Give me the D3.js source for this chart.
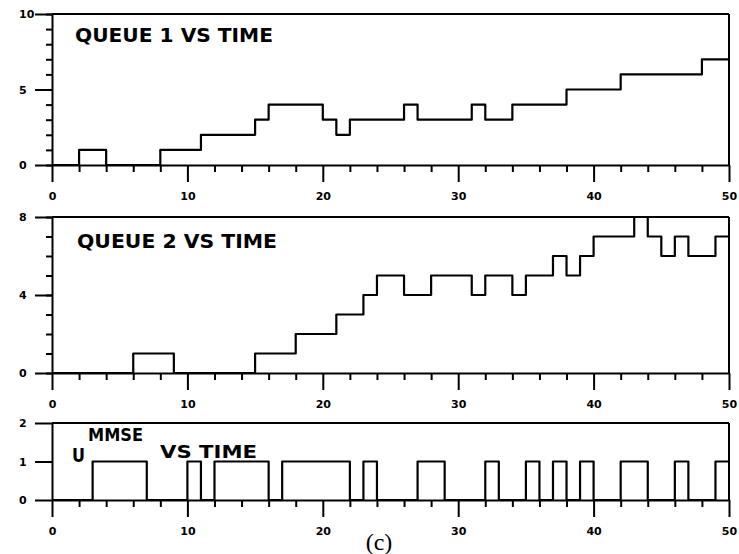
<!DOCTYPE html>
<html>
<head>
<meta charset="UTF-8">
<title>Queues vs time</title>
<script src="https://cdn.jsdelivr.net/npm/d3@7"></script>
<style>
body { margin: 0; background: #fff; }
svg { display: block; }
.axis path, .axis line { stroke: #000; stroke-width: 2px; }
.axis text { font: bold 11px "DejaVu Sans"; fill: #000; }
.border { stroke: #000; stroke-width: 2px; }
.step { fill: none; stroke: #000; stroke-width: 2.2px; stroke-linejoin: round; }
.title { font: bold 19px "DejaVu Sans"; fill: #000; }
.caption { font: 24px "Liberation Serif"; fill: #000; }
</style>
</head>
<body>
<svg width="739" height="554"></svg>
<script>
// step change points: value holds from time[i] until time[i+1]
var queue1Times  = [0,2,4,8,11,15,16,20,21,22,26,27,31,32,34,38,42,48,50];
var queue1Values = [0,1,0,1,2,3,4,3,2,3,4,3,4,3,4,5,6,7,7];

var queue2Times  = [0,6,9,15,18,21,23,24,26,28,31,32,34,35,37,38,39,40,43,44,45,46,47,49,50];
var queue2Values = [0,1,0,1,2,3,4,5,4,5,4,5,4,5,6,5,6,7,8,7,6,7,6,7,7];

var uTimes  = [0,3,7,10,11,12,16,17,22,23,24,27,29,32,33,35,36,37,38,39,40,42,44,46,47,49,50];
var uValues = [0,1,0,1,0,1,0,1,0,1,0,1,0,1,0,1,0,1,0,1,0,1,0,1,0,1,1];

var xMajor = [0,10,20,30,40,50];
var xMinor = [2,4,6,8,12,14,16,18,22,24,26,28,32,34,36,38,42,44,46,48];

var svg = d3.select("svg");
var x = d3.scaleLinear().domain([0, 50]).range([52, 729]);

var panels = [
  {top: 14,  bottom: 165, max: 10, major: [0,5,10], minor: d3.range(0, 11), t: queue1Times, v: queue1Values},
  {top: 217, bottom: 373, max: 8,  major: [0,4,8],  minor: d3.range(0, 9),  t: queue2Times, v: queue2Values},
  {top: 423, bottom: 500, max: 2,  major: [0,1,2],  minor: [],             t: uTimes,      v: uValues}
];

panels.forEach(function(p) {
  var y = d3.scaleLinear().domain([0, p.max]).range([p.bottom, p.top]);
  var g = svg.append("g");

  // frame: top and right
  g.append("line").attr("class", "border")
      .attr("x1", x(0)).attr("x2", x(50)).attr("y1", y(p.max)).attr("y2", y(p.max));
  g.append("line").attr("class", "border")
      .attr("x1", x(50)).attr("x2", x(50)).attr("y1", y(p.max)).attr("y2", y(0));

  // x axis
  g.append("g").attr("class", "axis")
      .attr("transform", "translate(0," + p.bottom + ")")
      .call(d3.axisBottom(x).tickValues(xMajor).tickSize(17).tickSizeOuter(0).tickPadding(10).tickFormat(d3.format("d")));
  g.append("g").attr("class", "axis")
      .attr("transform", "translate(0," + p.bottom + ")")
      .call(d3.axisBottom(x).tickValues(xMinor).tickSize(7).tickFormat(""))
      .select(".domain").remove();

  // y axis
  var ya = g.append("g").attr("class", "axis")
      .attr("transform", "translate(" + x(0) + ",0)")
      .call(d3.axisLeft(y).tickValues(p.major).tickSize(17).tickSizeOuter(0).tickFormat(d3.format("d")));
  ya.selectAll("text").attr("x", -33).attr("text-anchor", "start");
  g.append("g").attr("class", "axis")
      .attr("transform", "translate(" + x(0) + ",0)")
      .call(d3.axisLeft(y).tickValues(p.minor).tickSize(6).tickFormat(""))
      .select(".domain").remove();

  var pts = p.t.map(function(d, i) { return [d, p.v[i]]; });
  var line = d3.line()
      .x(function(d) { return x(d[0]); })
      .y(function(d) { return y(d[1]); })
      .curve(d3.curveStepAfter);
  g.append("path").attr("class", "step").attr("d", line(pts));
});

svg.append("text").attr("class", "title").attr("x", 75).attr("y", 42)
    .attr("textLength", 198).attr("lengthAdjust", "spacingAndGlyphs").text("QUEUE 1 VS TIME");
svg.append("text").attr("class", "title").attr("x", 77).attr("y", 248)
    .attr("textLength", 200).attr("lengthAdjust", "spacingAndGlyphs").text("QUEUE 2 VS TIME");

svg.append("text").attr("class", "title").attr("x", 72).attr("y", 462)
    .style("font-size", "19px").attr("textLength", 13).attr("lengthAdjust", "spacingAndGlyphs").text("U");
svg.append("text").attr("class", "title").attr("x", 88).attr("y", 441)
    .style("font-size", "18px").attr("textLength", 55).attr("lengthAdjust", "spacingAndGlyphs").text("MMSE");
svg.append("text").attr("class", "title").attr("x", 160).attr("y", 458)
    .style("font-size", "18px").attr("textLength", 97).attr("lengthAdjust", "spacingAndGlyphs").text("VS TIME");

svg.append("text").attr("class", "caption").attr("x", 379).attr("y", 550)
    .attr("text-anchor", "middle").text("(c)");
</script>
</body>
</html>
